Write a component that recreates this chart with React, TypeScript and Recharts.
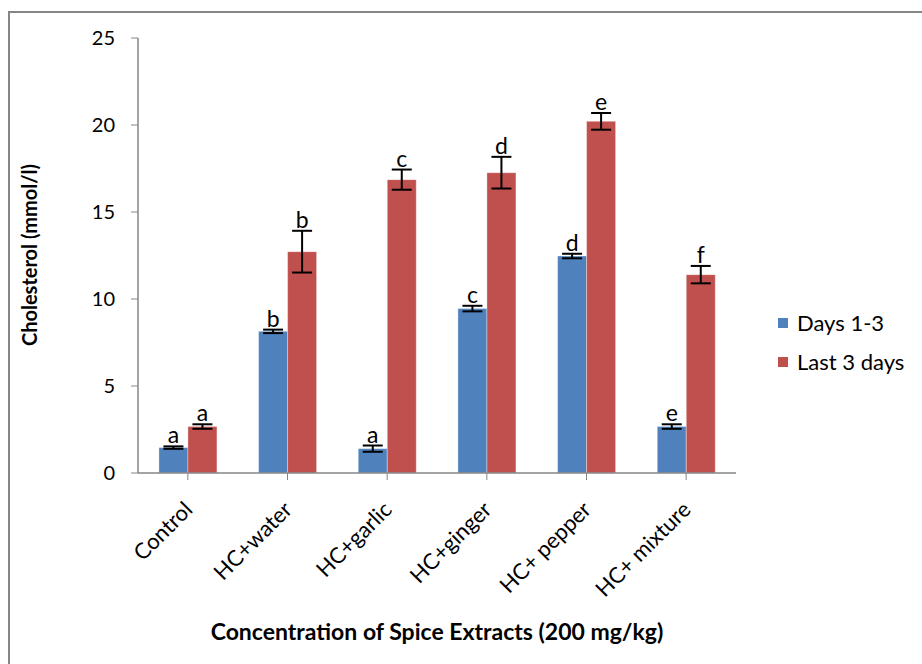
import * as React from 'react'
import { BarChart, Bar, XAxis, YAxis, ErrorBar, LabelList, Label } from 'recharts'

const categories = ['Control', 'HC+water', 'HC+garlic', 'HC+ginger', 'HC+ pepper', 'HC+ mixture']
const days13 = [1.46, 8.14, 1.4, 9.45, 12.47, 2.67]
const last3 = [2.67, 12.72, 16.86, 17.26, 20.21, 11.4]
const days13Err = [0.07, 0.1, 0.18, 0.16, 0.13, 0.13]
const last3Err = [0.13, 1.2, 0.58, 0.91, 0.48, 0.5]
const days13Letters = ['a', 'b', 'a', 'c', 'd', 'e']
const last3Letters = ['a', 'b', 'c', 'd', 'e', 'f']
const yTicks = [0, 5, 10, 15, 20, 25]

const FONT = 'Lato, "Open Sans", sans-serif'
const BLUE = '#4F81BD'
const RED = '#C0504D'
const AXIS = '#868686'

const data = categories.map((name, i) => ({
  name,
  days: days13[i],
  daysErr: days13Err[i],
  daysLetter: days13Letters[i],
  last: last3[i],
  lastErr: last3Err[i],
  lastLetter: last3Letters[i],
}))

// letter sits just above the top of the error bar
const makeLetter = (valKey: 'days' | 'last', errKey: 'daysErr' | 'lastErr') => (props: any) => {
  const { x, y, width, height, value, index } = props
  const row = data[index]
  const pxPerUnit = height / row[valKey]
  const top = y - row[errKey] * pxPerUnit
  return (
    <text x={x + width / 2} y={top - 3} textAnchor="middle" fontFamily={FONT} fontSize={23} fill="#000">
      {value}
    </text>
  )
}

const XTick = ({ x, y, payload }: any) => {
  const ax = x + 6
  const ay = y + 29
  return (
    <text x={ax} y={ay} transform={`rotate(-45 ${ax} ${ay})`} textAnchor="end" fontFamily={FONT} fontSize={22} fill="#000">
      {payload.value}
    </text>
  )
}

export default function App() {
  return (
    <div style={{ position: 'absolute', left: 0, top: 0, width: 922, height: 664, background: '#fff' }}>
      <div
        style={{
          position: 'absolute',
          left: 8,
          top: 11,
          right: 0,
          bottom: 0,
          borderTop: `2px solid ${AXIS}`,
          borderLeft: `2px solid ${AXIS}`,
        }}
      />
      <BarChart
        width={922}
        height={664}
        data={data}
        margin={{ top: 38, right: 186, left: 0, bottom: 0 }}
        barCategoryGap="21%"
        barGap={0}
        style={{ position: 'absolute', left: 0, top: 0 }}
      >
        <XAxis
          dataKey="name"
          height={191}
          interval={0}
          tick={<XTick />}
          tickLine={{ stroke: AXIS }}
          axisLine={{ stroke: AXIS, strokeWidth: 1.5 }}
          tickSize={7}
        >
          <Label
            content={() => (
              <text x={437} y={640} textAnchor="middle" fontFamily={FONT} fontWeight="bold" fontSize={23} fill="#000">
                Concentration of Spice Extracts (200 mg/kg)
              </text>
            )}
          />
        </XAxis>
        <YAxis
          width={138}
          domain={[0, 25]}
          ticks={yTicks}
          interval={0}
          tickSize={7}
          tickMargin={16}
          tick={{ fontFamily: FONT, fontSize: 20, fill: '#000' }}
          tickLine={{ stroke: AXIS }}
          axisLine={{ stroke: AXIS, strokeWidth: 1.5 }}
        >
          <Label
            content={() => (
              <text
                x={37}
                y={255}
                transform="rotate(-90 37 255)"
                textAnchor="middle"
                fontFamily={FONT}
                fontWeight="bold"
                fontSize={20}
                fill="#000"
              >
                Cholesterol (mmol/l)
              </text>
            )}
          />
        </YAxis>
        <Bar dataKey="days" name="Days 1-3" fill={BLUE} stroke="#ffffff" strokeOpacity={0.35} isAnimationActive={false}>
          <ErrorBar dataKey="daysErr" width={10} stroke="#000" strokeWidth={2} direction="y" isAnimationActive={false} />
          <LabelList dataKey="daysLetter" content={makeLetter('days', 'daysErr')} />
        </Bar>
        <Bar dataKey="last" name="Last 3 days" fill={RED} stroke="#ffffff" strokeOpacity={0.35} isAnimationActive={false}>
          <ErrorBar dataKey="lastErr" width={10} stroke="#000" strokeWidth={2} direction="y" isAnimationActive={false} />
          <LabelList dataKey="lastLetter" content={makeLetter('last', 'lastErr')} />
        </Bar>
      </BarChart>
      {[
        { label: 'Days 1-3', color: BLUE, top: 312 },
        { label: 'Last 3 days', color: RED, top: 351 },
      ].map((item) => (
        <div
          key={item.label}
          style={{
            position: 'absolute',
            left: 778,
            top: item.top,
            display: 'flex',
            alignItems: 'center',
            fontFamily: FONT,
            fontSize: 22,
            color: '#000',
            lineHeight: '22px',
          }}
        >
          <span style={{ width: 10, height: 10, background: item.color, marginRight: 9, display: 'inline-block' }} />
          {item.label}
        </div>
      ))}
    </div>
  )
}
